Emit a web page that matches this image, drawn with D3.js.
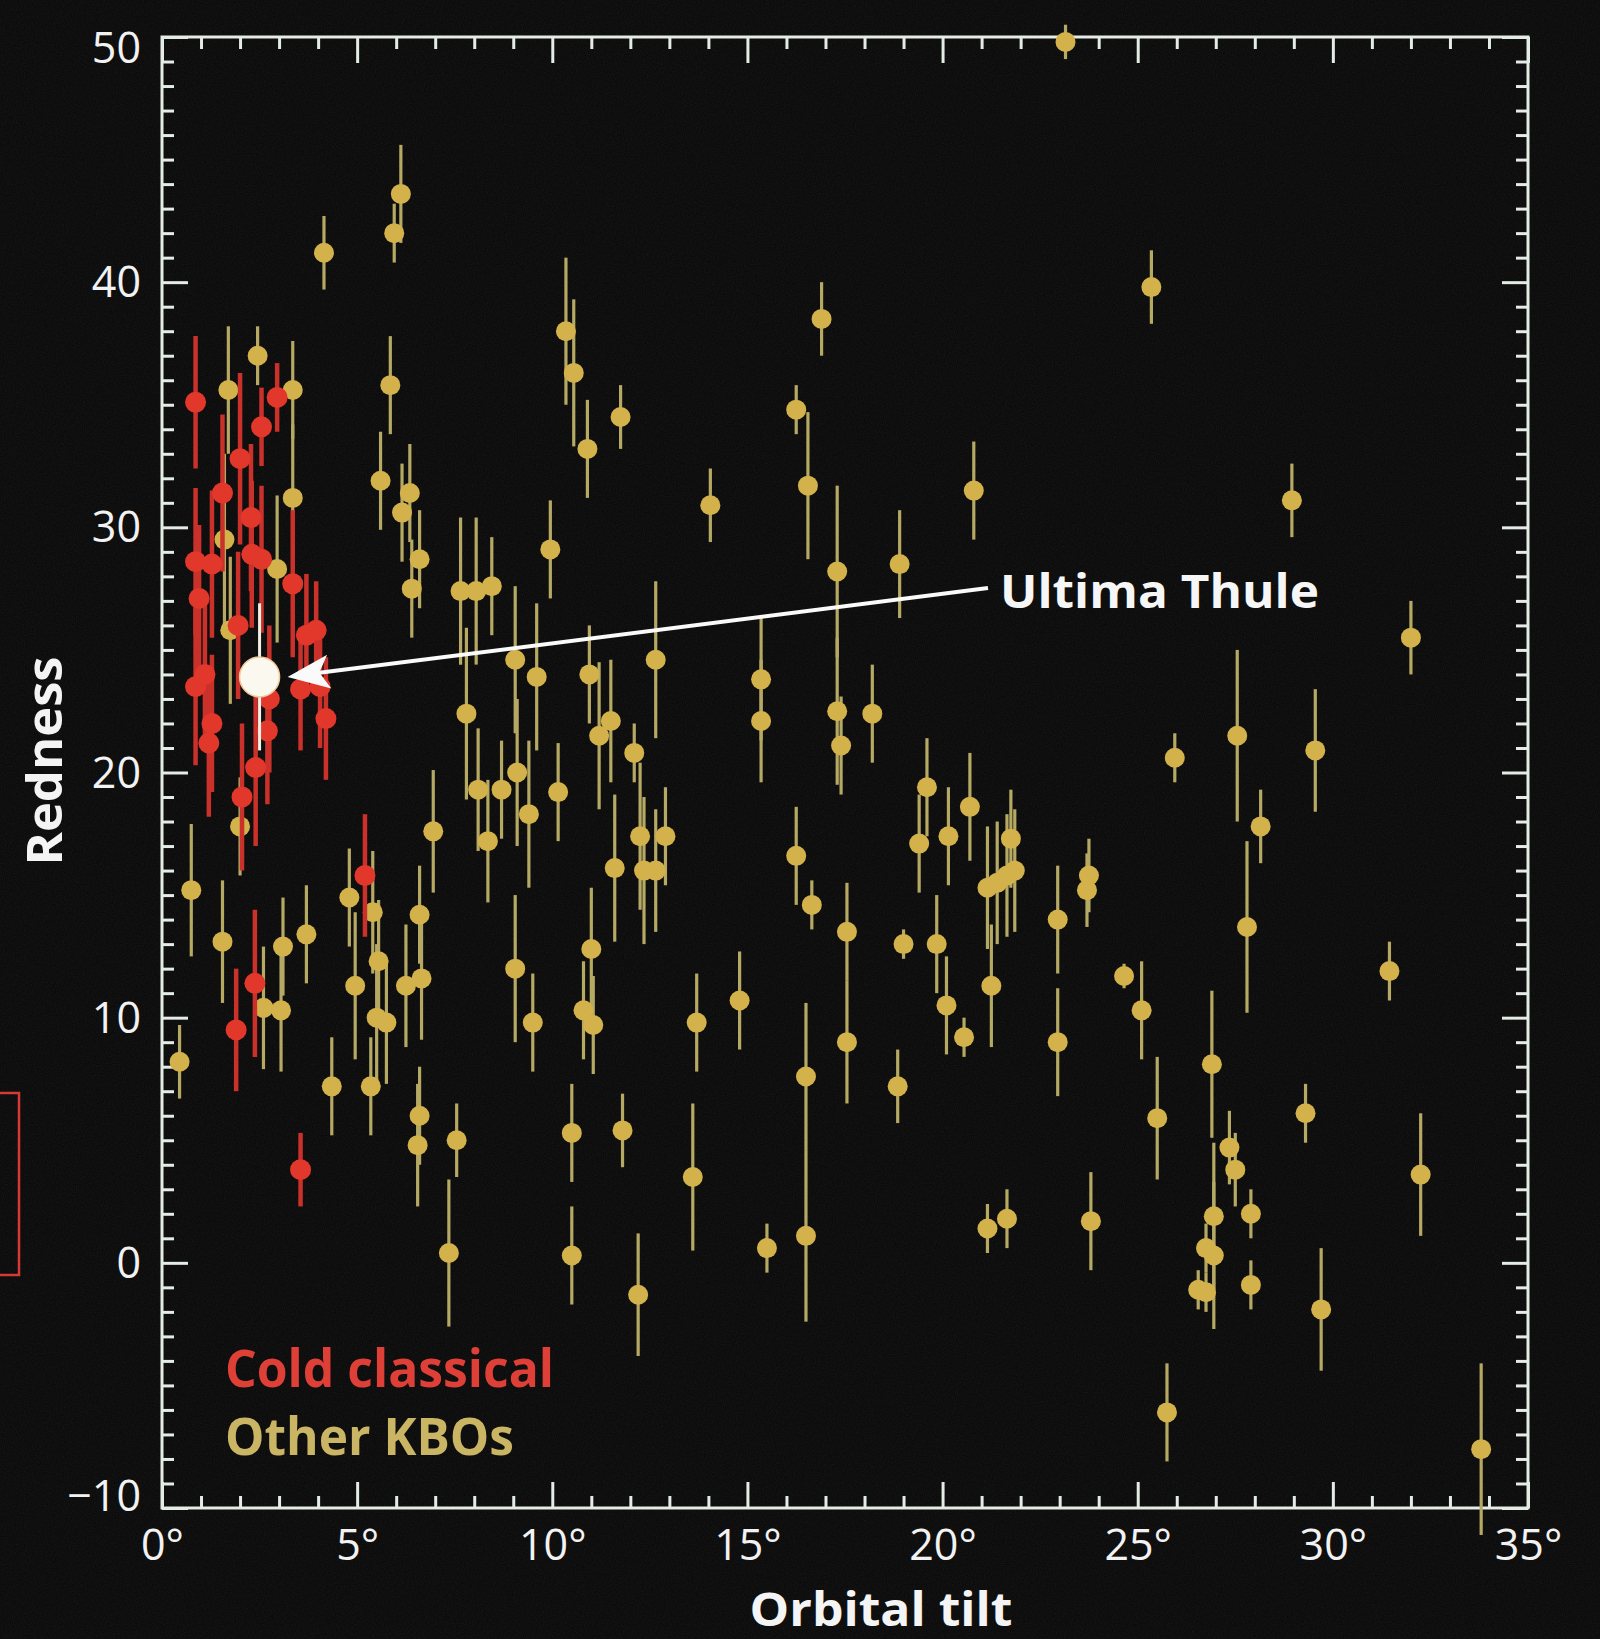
<!DOCTYPE html>
<html>
<head>
<meta charset="utf-8">
<script src="https://cdn.jsdelivr.net/npm/d3@7"></script>
<style>
  html, body { margin: 0; padding: 0; background: #0b0b0b; }
  svg { display: block; }
  text { font-family: "Open Sans", "Noto Sans", sans-serif; }
</style>
</head>
<body>
<div id="chart"></div>
<script>
// tick values
const xTicks = [0, 5, 10, 15, 20, 25, 30, 35];
const yTicks = [-10, 0, 10, 20, 30, 40, 50];

// [orbital tilt (deg), redness, error]
const coldClassical = [
  [0.86, 35.1, 2.7], [0.86, 28.6, 3.0], [0.95, 27.1, 3.0], [0.86, 23.5, 3.2],
  [1.28, 28.5, 3.0], [1.28, 22.0, 2.8], [1.20, 21.2, 3.0], [1.55, 31.4, 3.2],
  [2.00, 32.8, 3.5], [2.05, 19.0, 3.0], [1.90, 9.5, 2.5], [2.28, 30.4, 3.0],
  [2.30, 28.9, 3.0], [1.95, 26.0, 3.0], [2.38, 11.4, 3.0], [2.55, 28.7, 3.0],
  [2.55, 34.1, 1.6], [2.40, 20.2, 3.2], [2.70, 21.7, 3.0], [2.95, 35.3, 1.4],
  [3.35, 27.7, 3.0], [3.70, 25.6, 2.5], [3.95, 25.8, 2.0], [4.05, 23.5, 2.5],
  [4.20, 22.2, 2.5], [5.20, 15.8, 2.5], [3.55, 3.8, 1.5], [2.75, 23.0, 3.0],
  [3.55, 23.4, 2.5], [1.10, 24.0, 3.0]
];

const otherKBOs = [
  [0.45, 8.2, 1.5], [0.75, 15.2, 2.7], [1.55, 13.1, 2.5], [1.7, 35.6, 2.6],
  [1.6, 29.5, 3.5], [1.75, 25.8, 3.0], [2.0, 17.8, 2.0], [2.45, 37.0, 1.2],
  [2.6, 10.4, 2.5], [3.05, 10.3, 2.5], [2.95, 28.3, 3.0], [3.35, 35.6, 2.0],
  [3.35, 31.2, 3.0], [3.1, 12.9, 2.0], [3.7, 13.4, 2.0], [4.15, 41.2, 1.5],
  [4.35, 7.2, 2.0], [4.8, 14.9, 2.0], [4.95, 11.3, 3.0], [5.35, 7.2, 2.0],
  [5.4, 14.3, 2.5], [5.55, 12.3, 2.5], [5.5, 10.0, 3.0], [5.75, 9.8, 2.5],
  [5.6, 31.9, 2.0], [5.85, 35.8, 2.0], [5.95, 42.0, 1.2], [6.12, 43.6, 2.0],
  [6.15, 30.6, 2.0], [6.35, 31.4, 2.0], [6.4, 27.5, 2.0], [6.6, 28.7, 2.0],
  [6.25, 11.3, 2.5], [6.65, 11.6, 2.5], [6.6, 14.2, 2.0], [6.6, 6.0, 2.0],
  [6.55, 4.8, 2.5], [6.95, 17.6, 2.5], [7.35, 0.4, 3.0], [7.55, 5.0, 1.5],
  [7.65, 27.4, 3.0], [7.8, 22.4, 3.5], [8.05, 27.4, 3.0], [8.1, 19.3, 2.5],
  [8.35, 17.2, 2.5], [8.45, 27.6, 2.0], [8.7, 19.3, 2.0], [9.05, 24.6, 3.0],
  [9.1, 20.0, 3.0], [9.05, 12.0, 3.0], [9.4, 18.3, 3.0], [9.5, 9.8, 2.0],
  [9.6, 23.9, 3.0], [9.95, 29.1, 2.0], [10.15, 19.2, 2.0], [10.35, 38.0, 3.0],
  [10.55, 36.3, 3.0], [10.5, 5.3, 2.0], [10.5, 0.3, 2.0], [10.8, 10.3, 2.0],
  [10.9, 33.2, 2.0], [10.95, 24.0, 2.0], [11.0, 12.8, 2.5], [11.05, 9.7, 2.0],
  [11.2, 21.5, 3.0], [11.5, 22.1, 2.5], [11.6, 16.1, 3.0], [11.75, 34.5, 1.3],
  [11.8, 5.4, 1.5], [12.1, 20.8, 1.2], [12.2, -1.3, 2.5], [12.25, 17.4, 3.0],
  [12.35, 16.0, 3.0], [12.65, 24.6, 3.2], [12.65, 16.0, 2.5], [12.9, 17.4, 2.0],
  [13.6, 3.5, 3.0], [13.7, 9.8, 2.0], [14.05, 30.9, 1.5], [14.8, 10.7, 2.0],
  [15.35, 23.8, 2.5], [15.35, 22.1, 2.5], [15.5, 0.6, 1.0], [16.25, 34.8, 1.0],
  [16.25, 16.6, 2.0], [16.5, 7.6, 3.0], [16.5, 1.1, 3.5], [16.55, 31.7, 3.0],
  [16.65, 14.6, 1.0], [16.9, 38.5, 1.5], [17.3, 28.2, 3.5], [17.3, 22.5, 3.0],
  [17.4, 21.1, 2.0], [17.55, 13.5, 2.0], [17.55, 9.0, 2.5], [18.2, 22.4, 2.0],
  [18.9, 28.5, 2.2], [18.85, 7.2, 1.5], [19.0, 13.0, 0.6], [19.4, 17.1, 2.0],
  [19.6, 19.4, 2.0], [19.85, 13.0, 2.0], [20.1, 10.5, 2.0], [20.15, 17.4, 2.0],
  [20.55, 9.2, 0.8], [20.7, 18.6, 2.2], [20.8, 31.5, 2.0], [21.15, 15.3, 2.5],
  [21.25, 11.3, 2.5], [21.15, 1.4, 1.0], [21.4, 15.5, 2.5], [21.65, 1.8, 1.2],
  [21.65, 15.8, 2.5], [21.75, 17.3, 2.0], [21.85, 16.0, 2.5], [22.95, 14.0, 2.2],
  [22.95, 9.0, 2.2], [23.15, 49.8, 0.7], [23.75, 15.8, 1.5], [23.7, 15.2, 1.5],
  [23.8, 1.7, 2.0], [24.65, 11.7, 0.5], [25.1, 10.3, 2.0], [25.35, 39.8, 1.5],
  [25.5, 5.9, 2.5], [25.75, -6.1, 2.0], [25.95, 20.6, 1.0], [26.55, -1.1, 0.8],
  [26.75, -1.2, 0.8], [26.9, 8.1, 3.0], [26.95, 1.9, 3.0], [26.95, 0.3, 3.0],
  [26.75, 0.6, 1.0], [27.35, 4.7, 1.5], [27.5, 3.8, 1.5], [27.55, 21.5, 3.5],
  [27.8, 13.7, 3.5], [27.9, 2.0, 1.0], [27.9, -0.9, 1.0], [28.15, 17.8, 1.5],
  [28.95, 31.1, 1.5], [29.3, 6.1, 1.2], [29.55, 20.9, 2.5], [29.7, -1.9, 2.5],
  [31.45, 11.9, 1.2], [32.0, 25.5, 1.5], [32.25, 3.6, 2.5], [33.8, -7.6, 3.5]
];

const ultimaThule = [2.5, 23.9, 3.0];

const width = 1600, height = 1639;
const margin = {top: 37, right: 72, bottom: 131, left: 162};

const svg = d3.select("#chart").append("svg")
  .attr("width", width)
  .attr("height", height);

// paper grain
const defs = svg.append("defs");
const grain = defs.append("filter").attr("id", "grain").attr("x", 0).attr("y", 0).attr("width", "100%").attr("height", "100%");
grain.append("feTurbulence").attr("type", "fractalNoise").attr("baseFrequency", 0.9).attr("numOctaves", 2).attr("seed", 4);
grain.append("feColorMatrix").attr("type", "matrix")
  .attr("values", "0 0 0 0 0.35  0 0 0 0 0.33  0 0 0 0 0.33  0 0 0 0.35 -0.05");

svg.append("rect").attr("width", width).attr("height", height).attr("fill", "#090909");
svg.append("rect").attr("width", width).attr("height", height).attr("filter", "url(#grain)").attr("opacity", 0.35);

const x = d3.scaleLinear().domain([0, 35]).range([margin.left, width - margin.right]);
const y = d3.scaleLinear().domain([-10, 50]).range([height - margin.bottom, margin.top]);

const axisColor = "#e4ece6";
const majorLen = 26, minorLen = 12;
const xMinor = d3.range(0, 36).filter(d => d % 5);
const yMinor = d3.range(-10, 51).filter(d => d % 10);

function styleAxis(g) {
  g.select(".domain").remove();
  g.selectAll(".tick line").attr("stroke", axisColor).attr("stroke-width", 3);
  g.selectAll(".tick text").attr("fill", "#f2f2f2").attr("font-size", 43);
}

const bottomY = y(-10), topY = y(50), leftX = x(0), rightX = x(35);

// bottom
svg.append("g").attr("transform", `translate(0,${bottomY})`)
  .call(d3.axisBottom(x).tickValues(xMinor).tickSize(-minorLen).tickFormat(""))
  .call(styleAxis);
svg.append("g").attr("transform", `translate(0,${bottomY})`)
  .call(d3.axisBottom(x).tickValues(xTicks).tickSize(-majorLen).tickPadding(21).tickFormat(d => d + "°"))
  .call(styleAxis);
// top
svg.append("g").attr("transform", `translate(0,${topY})`)
  .call(d3.axisTop(x).tickValues(xMinor).tickSize(-minorLen).tickFormat(""))
  .call(styleAxis);
svg.append("g").attr("transform", `translate(0,${topY})`)
  .call(d3.axisTop(x).tickValues(xTicks).tickSize(-majorLen).tickFormat(""))
  .call(styleAxis);
// left
svg.append("g").attr("transform", `translate(${leftX},0)`)
  .call(d3.axisLeft(y).tickValues(yMinor).tickSize(-minorLen).tickFormat(""))
  .call(styleAxis);
const leftMajor = svg.append("g").attr("transform", `translate(${leftX},0)`)
  .call(d3.axisLeft(y).tickValues(yTicks).tickSize(-majorLen).tickPadding(21))
  .call(styleAxis);
leftMajor.selectAll(".tick text")
  .attr("dy", d => d === 50 ? "0.6em" : d === -10 ? "0.06em" : "0.34em");
// right
svg.append("g").attr("transform", `translate(${rightX},0)`)
  .call(d3.axisRight(y).tickValues(yMinor).tickSize(-minorLen).tickFormat(""))
  .call(styleAxis);
svg.append("g").attr("transform", `translate(${rightX},0)`)
  .call(d3.axisRight(y).tickValues(yTicks).tickSize(-majorLen).tickFormat(""))
  .call(styleAxis);

// frame
svg.append("rect")
  .attr("x", leftX).attr("y", topY)
  .attr("width", rightX - leftX).attr("height", bottomY - topY)
  .attr("fill", "none").attr("stroke", axisColor).attr("stroke-width", 3);

// points
function drawSeries(data, barColor, dotColor, barWidth, r) {
  const g = svg.append("g");
  g.selectAll("line").data(data).join("line")
    .attr("x1", d => x(d[0])).attr("x2", d => x(d[0]))
    .attr("y1", d => y(d[1] - d[2])).attr("y2", d => y(d[1] + d[2]))
    .attr("stroke", barColor).attr("stroke-width", barWidth);
  g.selectAll("circle").data(data).join("circle")
    .attr("cx", d => x(d[0])).attr("cy", d => y(d[1]))
    .attr("r", r).attr("fill", dotColor);
}
drawSeries(otherKBOs, "#b5a964", "#d3b24b", 3.2, 10);
drawSeries(coldClassical, "#c9312a", "#e2372b", 4.5, 10.5);

// Ultima Thule
const ut = svg.append("g");
ut.append("line")
  .attr("x1", x(ultimaThule[0])).attr("x2", x(ultimaThule[0]))
  .attr("y1", y(ultimaThule[1] - ultimaThule[2])).attr("y2", y(ultimaThule[1] + ultimaThule[2]))
  .attr("stroke", "#f4f0e6").attr("stroke-width", 3);
ut.append("circle")
  .attr("cx", x(ultimaThule[0])).attr("cy", y(ultimaThule[1]))
  .attr("r", 20).attr("fill", "#fbf8f0")
  .attr("stroke", "#f0c89a").attr("stroke-width", 1.5);

// annotation arrow
const tipX = x(ultimaThule[0]) + 28, tipY = y(ultimaThule[1]);
const startX = 988, startY = 588;
const ang = Math.atan2(startY - tipY, startX - tipX);
const rot = ang * 180 / Math.PI;
svg.append("line")
  .attr("x1", startX).attr("y1", startY)
  .attr("x2", tipX + 30 * Math.cos(ang)).attr("y2", tipY + 30 * Math.sin(ang))
  .attr("stroke", "#fafafa").attr("stroke-width", 4);
svg.append("path")
  .attr("transform", `translate(${tipX},${tipY}) rotate(${rot})`)
  .attr("d", "M0,0 L42,-17 L32,0 L42,17 Z")
  .attr("fill", "#fafafa");

svg.append("text")
  .attr("x", 1000).attr("y", 608)
  .attr("font-size", 46).attr("font-weight", 700)
  .attr("fill", "#f6f6f6")
  .attr("textLength", 319).attr("lengthAdjust", "spacingAndGlyphs")
  .text("Ultima Thule");

// legend
svg.append("text")
  .attr("x", 225).attr("y", 1387)
  .attr("font-size", 52).attr("font-weight", 700)
  .attr("fill", "#de4038")
  .attr("textLength", 329).attr("lengthAdjust", "spacingAndGlyphs")
  .text("Cold classical");
svg.append("text")
  .attr("x", 225).attr("y", 1455)
  .attr("font-size", 52).attr("font-weight", 700)
  .attr("fill", "#c9b563")
  .attr("textLength", 289).attr("lengthAdjust", "spacingAndGlyphs")
  .text("Other KBOs");

// axis titles
svg.append("text")
  .attr("x", 881).attr("y", 1626)
  .attr("text-anchor", "middle")
  .attr("font-size", 46).attr("font-weight", 700)
  .attr("fill", "#f4f4f4")
  .attr("textLength", 263).attr("lengthAdjust", "spacingAndGlyphs")
  .text("Orbital tilt");
svg.append("text")
  .attr("transform", "translate(62,761) rotate(-90)")
  .attr("text-anchor", "middle")
  .attr("font-size", 48).attr("font-weight", 700)
  .attr("fill", "#f4f4f4")
  .attr("textLength", 209).attr("lengthAdjust", "spacingAndGlyphs")
  .text("Redness");

// stray red box at the page edge
svg.append("rect")
  .attr("x", -10).attr("y", 1093).attr("width", 29).attr("height", 182)
  .attr("fill", "none").attr("stroke", "#d63a34").attr("stroke-width", 2.5);
</script>
</body>
</html>
